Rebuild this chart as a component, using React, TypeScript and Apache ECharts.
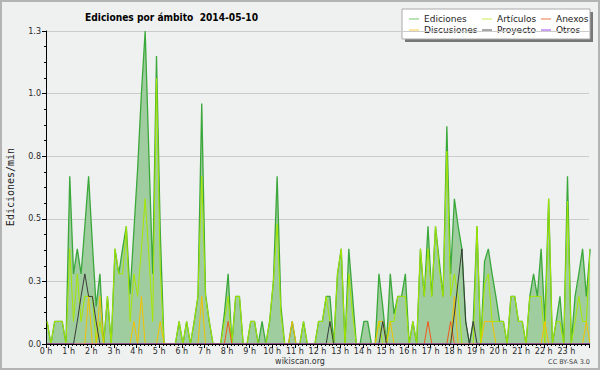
import React, { useEffect, useRef } from "react";
import * as echarts from "echarts";

// Hour tick labels (x axis) and value tick labels (y axis)
const hourLabels = [
  "0 h", "1 h", "2 h", "3 h", "4 h", "5 h", "6 h", "7 h", "8 h", "9 h", "10 h", "11 h",
  "12 h", "13 h", "14 h", "15 h", "16 h", "17 h", "18 h", "19 h", "20 h", "21 h", "22 h", "23 h",
];
const yTickLabels = ["0.0", "0.3", "0.5", "0.8", "1.0", "1.3"];

// 10-minute samples, edits per minute
const ediciones = [
  0.09, 0, 0.09, 0.09, 0.09, 0, 0.67, 0.28, 0.38, 0.28,
  0.47, 0.67, 0.4, 0.15, 0.28, 0, 0.19, 0, 0.38, 0.28,
  0.38, 0.47, 0.2, 0.45, 0.7, 1.0, 1.25, 0.75, 0.28, 1.15,
  0.45, 0, 0, 0, 0, 0.09, 0, 0.09, 0, 0.09,
  0.19, 0.96, 0.2, 0.09, 0, 0, 0, 0.12, 0.28, 0,
  0.19, 0.19, 0, 0, 0.09, 0.09, 0, 0.09, 0, 0.09,
  0.25, 0.67, 0.15, 0, 0, 0.09, 0, 0, 0.09, 0,
  0, 0, 0.09, 0.09, 0.19, 0.19, 0, 0.28, 0.38, 0,
  0.38, 0.19, 0, 0, 0.09, 0.09, 0, 0, 0.28, 0.15,
  0, 0.28, 0.12, 0.19, 0.19, 0.28, 0, 0.09, 0, 0.38,
  0.19, 0.47, 0.19, 0.47, 0.33, 0.19, 0.87, 0.28, 0.58, 0.47,
  0.38, 0.09, 0, 0.09, 0.47, 0, 0.33, 0.38, 0.28, 0.19,
  0.09, 0.09, 0, 0.19, 0.19, 0.09, 0.09, 0, 0.19, 0.28,
  0.19, 0.38, 0.09, 0.58, 0, 0.09, 0.19, 0, 0.67, 0,
  0.19, 0.28, 0.38, 0.19, 0.38,
];
const articulos = [
  0.09, 0, 0.09, 0.09, 0.09, 0, 0.38, 0.09, 0.28, 0.09,
  0.19, 0.19, 0.19, 0, 0.09, 0, 0.19, 0, 0.38, 0.28,
  0.28, 0.47, 0.09, 0.28, 0.19, 0.38, 0.58, 0.35, 0.09, 1.06,
  0.3, 0, 0, 0, 0, 0.09, 0, 0.09, 0, 0.09,
  0.19, 0.67, 0.19, 0.09, 0, 0, 0, 0.09, 0.19, 0,
  0.19, 0.19, 0, 0, 0.09, 0.09, 0, 0, 0, 0.09,
  0.25, 0.48, 0.12, 0, 0, 0, 0, 0, 0.09, 0,
  0, 0, 0.09, 0.09, 0.19, 0.09, 0, 0.28, 0.38, 0,
  0.28, 0.12, 0, 0, 0, 0, 0, 0, 0.09, 0,
  0, 0.09, 0.09, 0.19, 0.19, 0.19, 0, 0.09, 0, 0.38,
  0.19, 0.38, 0.19, 0.47, 0.3, 0.19, 0.77, 0.19, 0.28, 0.19,
  0, 0, 0, 0, 0.47, 0, 0.24, 0.28, 0.09, 0.09,
  0.09, 0.09, 0, 0.19, 0.19, 0.09, 0.09, 0, 0.19, 0.19,
  0.19, 0.19, 0, 0.58, 0, 0.09, 0.09, 0, 0.57, 0,
  0.09, 0.19, 0.09, 0.09, 0.38,
];
const anexos = [
  0, 0, 0, 0, 0, 0, 0, 0, 0, 0,
  0, 0, 0, 0, 0, 0, 0, 0, 0, 0,
  0, 0, 0, 0, 0, 0, 0, 0, 0, 0,
  0, 0, 0, 0, 0, 0, 0, 0, 0, 0,
  0, 0, 0, 0, 0, 0, 0, 0, 0.09, 0,
  0, 0, 0, 0, 0, 0, 0, 0, 0, 0,
  0, 0, 0, 0, 0, 0, 0, 0, 0, 0,
  0, 0, 0, 0, 0, 0, 0, 0, 0, 0,
  0, 0, 0, 0, 0, 0, 0, 0, 0, 0,
  0, 0, 0, 0, 0, 0, 0, 0, 0, 0,
  0, 0.09, 0, 0, 0, 0, 0, 0.09, 0, 0,
  0, 0, 0, 0, 0, 0, 0, 0, 0, 0,
  0, 0, 0, 0, 0, 0, 0, 0, 0, 0,
  0, 0, 0, 0, 0, 0, 0, 0, 0, 0,
  0, 0, 0, 0, 0,
];
const discusiones = [
  0, 0, 0, 0, 0, 0, 0, 0, 0, 0,
  0, 0.19, 0, 0, 0.19, 0, 0, 0, 0, 0,
  0, 0, 0, 0.09, 0, 0.19, 0, 0, 0, 0,
  0.09, 0, 0, 0, 0, 0, 0, 0, 0, 0,
  0, 0.19, 0, 0, 0, 0, 0, 0, 0, 0,
  0, 0, 0, 0, 0, 0, 0, 0, 0, 0,
  0, 0, 0, 0, 0, 0.09, 0, 0, 0, 0,
  0, 0, 0, 0, 0, 0, 0, 0, 0, 0,
  0, 0, 0, 0, 0, 0, 0, 0, 0.09, 0.09,
  0, 0.09, 0, 0, 0, 0, 0, 0, 0, 0,
  0, 0, 0, 0, 0, 0, 0, 0, 0.19, 0,
  0, 0, 0, 0, 0, 0, 0.09, 0.09, 0.09, 0,
  0, 0, 0, 0, 0, 0, 0, 0, 0, 0,
  0, 0, 0.09, 0, 0, 0, 0, 0, 0, 0,
  0, 0, 0, 0.09, 0,
];
const proyecto = [
  0, 0, 0, 0, 0, 0, 0, 0, 0.09, 0.19,
  0.28, 0.19, 0.19, 0.09, 0, 0, 0, 0, 0, 0,
  0, 0, 0, 0, 0, 0, 0, 0, 0, 0,
  0, 0, 0, 0, 0, 0, 0, 0, 0, 0,
  0, 0, 0, 0, 0, 0, 0, 0, 0, 0,
  0, 0, 0, 0, 0, 0, 0, 0, 0, 0,
  0, 0, 0, 0, 0, 0, 0, 0, 0, 0,
  0, 0, 0, 0, 0, 0.09, 0, 0, 0, 0,
  0, 0, 0, 0, 0, 0, 0, 0, 0, 0.09,
  0, 0, 0, 0, 0, 0, 0, 0, 0, 0,
  0, 0, 0, 0, 0, 0, 0, 0, 0.12, 0.25,
  0.38, 0.09, 0, 0.09, 0, 0, 0, 0, 0, 0,
  0, 0, 0, 0, 0, 0, 0, 0, 0, 0,
  0, 0, 0, 0, 0, 0, 0, 0, 0, 0,
  0, 0, 0, 0, 0,
];
const otros = [
  0, 0, 0, 0, 0, 0, 0, 0, 0, 0,
  0, 0, 0, 0, 0, 0, 0, 0, 0, 0,
  0, 0, 0, 0, 0, 0, 0, 0, 0, 0,
  0, 0, 0, 0, 0, 0, 0, 0, 0, 0,
  0, 0, 0, 0, 0, 0, 0, 0, 0, 0,
  0, 0, 0, 0, 0, 0, 0, 0, 0, 0,
  0, 0, 0, 0, 0, 0, 0, 0, 0, 0,
  0, 0, 0, 0, 0, 0, 0, 0, 0, 0,
  0, 0, 0, 0, 0, 0, 0, 0, 0, 0,
  0, 0, 0, 0, 0, 0, 0, 0, 0, 0,
  0, 0, 0, 0, 0, 0, 0, 0, 0, 0,
  0, 0, 0, 0, 0, 0, 0, 0, 0, 0,
  0, 0, 0, 0, 0, 0, 0, 0, 0, 0,
  0, 0, 0, 0, 0, 0, 0, 0, 0, 0,
  0, 0, 0, 0, 0,
];

const seriesNames = ["Ediciones", "Artículos", "Anexos", "Discusiones", "Proyecto", "Otros"];
const seriesData = [ediciones, articulos, anexos, discusiones, proyecto, otros];
const lineColors = ["#3aa83a", "#a6e600", "#ee5a1a", "#f2c200", "#3a3a3a", "#9933ee"];
const legendColors = ["#70c870", "#c8ec50", "#ee7744", "#f8cc44", "#555555", "#9944ee"];

export default function App() {
  const ref = useRef<HTMLDivElement>(null);

  useEffect(() => {
    const el = ref.current;
    if (!el) return;
    const chart = echarts.init(el, null, { renderer: "svg" });
    const font = "DejaVu Sans";
    const minutes = ediciones.map((_, i) => i * 10 + 3);

    const series = seriesNames.map((name, k) => {
      const s: any = {
        type: "line",
        name,
        data: seriesData[k].map((v, i) => [minutes[i], v]),
        symbol: "none",
        showSymbol: false,
        silent: true,
        clip: true,
        z: 2 + k * 0.01,
        lineStyle: { color: lineColors[k], width: k === 0 ? 1.3 : 1 },
        itemStyle: { color: lineColors[k] },
      };
      if (k === 0) {
        s.areaStyle = { color: "#a0cda0", opacity: 1 };
      }
      return s;
    });

    const colText = [424, 497, 556];
    const colLine = [409, 482, 541];
    const rowY = [19, 30];
    const legendChildren: any[] = [
      { type: "rect", shape: { x: 405, y: 12, width: 188, height: 30 }, style: { fill: "#777777" } },
      { type: "rect", shape: { x: 402, y: 9, width: 188, height: 30 }, style: { fill: "#ffffff", stroke: "#aaaaaa", lineWidth: 1 } },
    ];
    seriesNames.forEach((name, k) => {
      const row = Math.floor(k / 3);
      const col = k % 3;
      legendChildren.push({
        type: "line",
        shape: { x1: colLine[col], y1: rowY[row], x2: colLine[col] + 10, y2: rowY[row] },
        style: { stroke: legendColors[k], lineWidth: 1 },
      });
      legendChildren.push({
        type: "text",
        x: colText[col],
        y: rowY[row],
        style: { text: name, fill: "#222222", font: `9px '${font}'`, textAlign: "left", textVerticalAlign: "middle" },
      });
    });

    chart.setOption({
      animation: false,
      backgroundColor: "#eff0f0",
      textStyle: { fontFamily: font },
      grid: { left: 46, right: 11, top: 31, bottom: 26, containLabel: false },
      xAxis: {
        type: "value",
        min: 0,
        max: 1440,
        interval: 60,
        z: 5,
        axisLine: { show: true, lineStyle: { color: "#000000", width: 1 } },
        axisTick: { show: true, length: 4, lineStyle: { color: "#000000" } },
        minorTick: { show: true, splitNumber: 6, length: 2, lineStyle: { color: "#000000" } },
        splitLine: { show: false },
        axisLabel: {
          fontSize: 8,
          color: "#2a2a2a",
          margin: 3,
          showMaxLabel: false,
          formatter: (v: number) => hourLabels[Math.round(v / 60)] ?? "",
        },
      },
      yAxis: {
        type: "value",
        min: 0,
        max: 1.25,
        interval: 0.25,
        axisLine: { show: true, lineStyle: { color: "#000000", width: 1 } },
        axisTick: { show: true, length: 4, lineStyle: { color: "#000000" } },
        minorTick: { show: true, splitNumber: 4, length: 2, lineStyle: { color: "#000000" } },
        splitLine: { show: true, lineStyle: { color: "#cbcbcb", width: 1 } },
        axisLabel: {
          fontSize: 8,
          color: "#2a2a2a",
          margin: 5,
          formatter: (v: number) => yTickLabels[Math.round(v / 0.25)] ?? "",
        },
      },
      series,
      graphic: [
        {
          type: "rect",
          shape: { x: 1, y: 1, width: 598, height: 368 },
          style: { fill: "none", stroke: "#b4b4b4", lineWidth: 2 },
          silent: true,
          z: 100,
        },
        { type: "group", children: legendChildren, z: 50 },
        {
          type: "text",
          x: 85,
          y: 17,
          scaleX: 0.83,
          style: {
            text: "Ediciones por ámbito  2014-05-10",
            fill: "#000000",
            font: `bold 11px '${font}'`,
            textAlign: "left",
            textVerticalAlign: "middle",
          },
        },
        {
          type: "text",
          x: 10,
          y: 187,
          rotation: Math.PI / 2,
          style: {
            text: "Ediciones/min",
            fill: "#222222",
            font: "10px 'DejaVu Sans Mono'",
            textAlign: "center",
            textVerticalAlign: "middle",
          },
        },
        {
          type: "text",
          x: 300,
          y: 361,
          style: { text: "wikiscan.org", fill: "#333333", font: `8px '${font}'`, textAlign: "center", textVerticalAlign: "middle" },
        },
        {
          type: "text",
          x: 590,
          y: 362,
          style: { text: "CC BY-SA 3.0", fill: "#444444", font: `6.5px '${font}'`, textAlign: "right", textVerticalAlign: "middle" },
        },
      ],
    });

    return () => chart.dispose();
  }, []);

  return <div ref={ref} style={{ position: "absolute", left: 0, top: 0, width: 600, height: 370 }} />;
}
